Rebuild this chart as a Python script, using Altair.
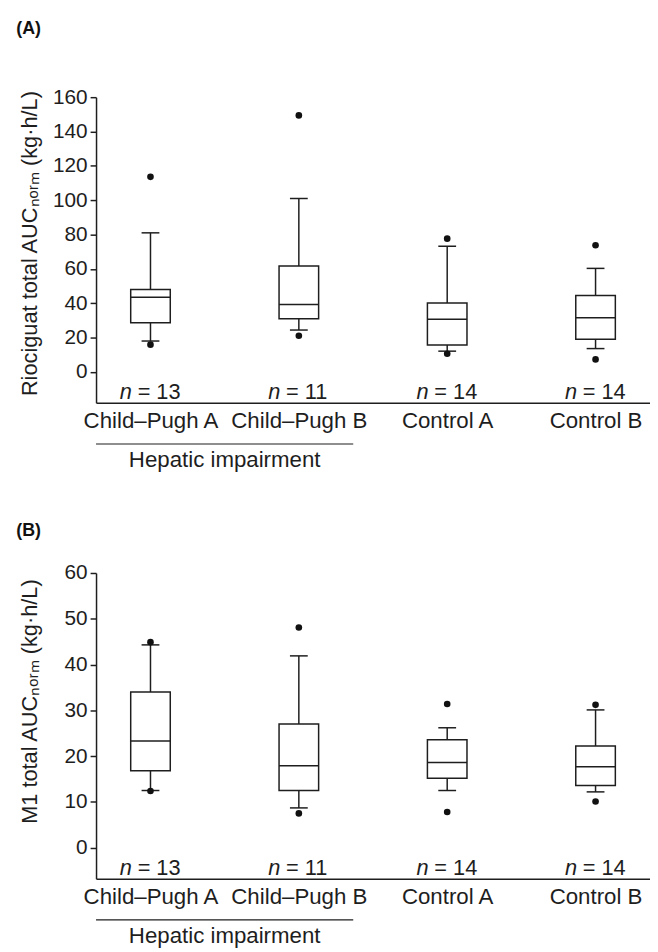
import altair as alt
import pandas as pd

groups = ["Child–Pugh A", "Child–Pugh B", "Control A", "Control B"]
n_counts = ["13", "11", "14", "14"]

# Panel A: riociguat total AUCnorm
a_low = [18.0, 24.4, 12.1, 13.6]
a_q1 = [28.7, 31.0, 15.7, 19.0]
a_med = [43.5, 39.3, 30.7, 31.6]
a_q3 = [48.0, 61.7, 40.2, 44.5]
a_high = [81.0, 101.0, 73.2, 60.3]
a_out_group = ["Child–Pugh A", "Child–Pugh A", "Child–Pugh B", "Child–Pugh B",
               "Control A", "Control A", "Control B", "Control B"]
a_out_value = [113.6, 15.9, 149.4, 21.1, 77.6, 10.6, 73.8, 7.3]
a_ticks = [0, 20, 40, 60, 80, 100, 120, 140, 160]

# Panel B: M1 total AUCnorm
b_low = [12.5, 8.7, 12.5, 12.2]
b_q1 = [16.8, 12.5, 15.2, 13.6]
b_med = [23.3, 17.9, 18.6, 17.7]
b_q3 = [34.0, 27.0, 23.6, 22.2]
b_high = [44.3, 41.9, 26.2, 30.1]
b_out_group = ["Child–Pugh A", "Child–Pugh A", "Child–Pugh B", "Child–Pugh B",
               "Control A", "Control A", "Control B", "Control B"]
b_out_value = [44.9, 12.4, 48.1, 7.5, 31.4, 7.8, 31.2, 10.1]
b_ticks = [0, 10, 20, 30, 40, 50, 60]

W, H = 560, 309
FONT = "Liberation Sans"
INK = "#1e1e1e"
FS = 21
FSX = 22.5
FSN = 22


def panel(tag, tag_y, ytitle, title_y, low, q1, med, q3, high, og, ov, ticks, ydomain):
    stats = pd.DataFrame({"group": groups, "low": low, "q1": q1, "med": med,
                          "q3": q3, "high": high, "n": ["= " + c for c in n_counts]})
    outl = pd.DataFrame({"group": og, "value": ov})
    one = pd.DataFrame({"k": [0]})

    xaxis = alt.Axis(title=None, labelAngle=0, labelFontSize=FSX, labelFont=FONT,
                     labelColor=INK, ticks=False, tickSize=0, labelPadding=7,
                     domainColor=INK, domainWidth=1.5, grid=False,
                     labelOverlap=False)
    xscale = alt.Scale(type="point", padding=0.367)
    yscale = alt.Scale(domain=ydomain, nice=False, zero=False)
    yaxis = alt.Axis(values=ticks, tickCount=len(ticks), grid=False, labelFontSize=FS,
                     labelFont=FONT, labelColor=INK, tickSize=6, tickWidth=1.5,
                     tickColor=INK, domainColor=INK, domainWidth=1.5, labelPadding=3,
                     labelOverlap=False, labelBound=False,
                     title=ytitle, titleFontSize=22, titleFont=FONT,
                     titleFontWeight="normal", titleColor=INK, titleAngle=270,
                     titleBaseline="bottom", titleX=-55, titleY=title_y)

    def X():
        return alt.X("group:N", sort=groups, scale=xscale, axis=xaxis)

    def Y(field):
        return alt.Y(field, scale=yscale, axis=yaxis, title=ytitle)

    base = alt.Chart(stats)
    whisk_hi = base.mark_rule(color=INK, strokeWidth=1.5).encode(
        x=X(), y=Y("q3:Q"), y2="high:Q")
    whisk_lo = base.mark_rule(color=INK, strokeWidth=1.5).encode(
        x=X(), y=Y("low:Q"), y2="q1:Q")
    box = base.mark_bar(size=40, fill="white", stroke=INK, strokeWidth=1.5,
                        opacity=1).encode(
        x=X(), y=Y("q1:Q"), y2="q3:Q")
    median = base.mark_tick(size=40, thickness=1.5, color=INK, opacity=1,
                            orient="horizontal").encode(
        x=X(), y=Y("med:Q"))
    cap_hi = base.mark_tick(size=18, thickness=1.5, color=INK, opacity=1,
                            orient="horizontal").encode(
        x=X(), y=Y("high:Q"))
    cap_lo = base.mark_tick(size=18, thickness=1.5, color=INK, opacity=1,
                            orient="horizontal").encode(
        x=X(), y=Y("low:Q"))
    dots = alt.Chart(outl).mark_circle(size=45, color="#111", opacity=1).encode(
        x=X(), y=Y("value:Q"))
    n_it = base.mark_text(text="n", font=FONT, fontSize=FSN, fontStyle="italic",
                          color=INK, align="left", baseline="middle", dx=-31).encode(
        x=X(), y=alt.value(H - 11))
    n_num = base.mark_text(font=FONT, fontSize=FSN, color=INK, align="left",
                           baseline="middle", dx=-13).encode(
        x=X(), y=alt.value(H - 11), text="n:N")
    under = alt.Chart(one).mark_rule(color=INK, strokeWidth=1.2).encode(
        x=alt.value(0), x2=alt.value(260), y=alt.value(H + 41.6))
    hep = alt.Chart(one).mark_text(text="Hepatic impairment", font=FONT, fontSize=FSX,
                                   color=INK, align="center", baseline="middle").encode(
        x=alt.value(130), y=alt.value(H + 58))
    label = alt.Chart(one).mark_text(text=tag, font=FONT, fontSize=18, fontWeight="bold",
                                     color="#111", align="left", baseline="middle").encode(
        x=alt.value(-80.7), y=alt.value(tag_y))

    return alt.layer(whisk_hi, whisk_lo, box, median, cap_hi, cap_lo, dots,
                     n_it, n_num, under, hep, label).properties(width=W, height=H)


pa = panel("(A)", -69, "Riociguat total AUCₙₒᵣₘ (kg·h/L)", H / 2 - 7,
           a_low, a_q1, a_med, a_q3, a_high, a_out_group, a_out_value, a_ticks, [-18, 160])
pb = panel("(B)", -42, "M1 total AUCₙₒᵣₘ (kg·h/L)", H / 2 - 25,
           b_low, b_q1, b_med, b_q3, b_high, b_out_group, b_out_value, b_ticks, [-6.75, 60])

chart = alt.vconcat(pa, pb, spacing=51).resolve_scale(y="independent").properties(
    padding={"left": 8, "top": 7, "right": 0, "bottom": 0},
    background="white",
).configure_view(stroke=None)

chart.save("out.html", embed_options={"renderer": "svg", "actions": False})
